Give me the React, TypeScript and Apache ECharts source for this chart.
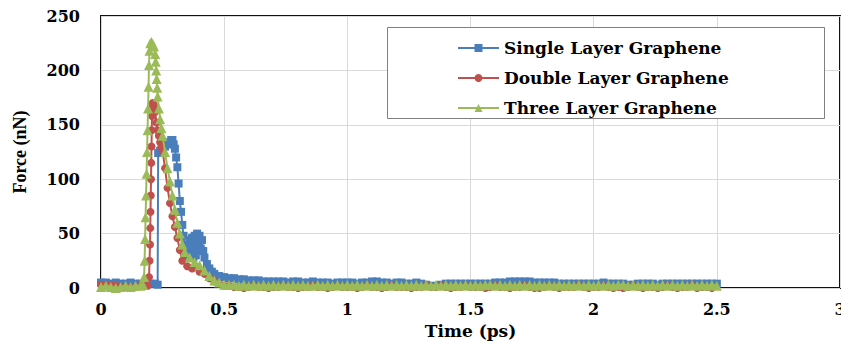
import React, { useEffect, useRef } from "react";
import * as echarts from "echarts";

// ---- Data ----
const xTicks = [0, 0.5, 1, 1.5, 2, 2.5, 3];
const yTicks = [0, 50, 100, 150, 200, 250];

const singleHeadTime = [0, 0.02, 0.04, 0.06, 0.08, 0.1, 0.12, 0.14, 0.16, 0.18, 0.2, 0.22, 0.23, 0.232, 0.24, 0.25, 0.26, 0.27, 0.28, 0.285, 0.29, 0.295, 0.3, 0.305, 0.31, 0.315, 0.32, 0.325, 0.33, 0.335, 0.34, 0.345, 0.35, 0.355, 0.36, 0.365, 0.37, 0.375, 0.38, 0.385, 0.39, 0.395, 0.4, 0.405, 0.41, 0.415, 0.42, 0.43, 0.44, 0.45, 0.46, 0.48, 0.5];
const singleHeadForce = [5, 5, 4, 5, 4, 4, 5, 4, 4, 4, 4, 4, 3, 124, 126, 128, 130, 132, 134, 136, 136, 132, 128, 120, 111, 96, 80, 70, 58, 48, 40, 34, 30, 38, 44, 30, 46, 28, 48, 30, 50, 34, 48, 36, 44, 34, 28, 22, 18, 15, 13, 11, 10];

const doubleHeadTime = [0, 0.02, 0.04, 0.06, 0.08, 0.1, 0.12, 0.14, 0.16, 0.18, 0.19, 0.195, 0.197, 0.199, 0.2, 0.201, 0.202, 0.203, 0.204, 0.205, 0.206, 0.207, 0.208, 0.21, 0.215, 0.22, 0.225, 0.23, 0.235, 0.24, 0.245, 0.25, 0.26, 0.27, 0.28, 0.29, 0.3, 0.31, 0.32, 0.33, 0.35, 0.37, 0.4, 0.42, 0.44, 0.46, 0.48, 0.5];
const doubleHeadForce = [3, 3, 2, 2, 1, 1, 0, 1, 2, 2, 2, 10, 25, 40, 55, 70, 85, 100, 115, 130, 145, 158, 166, 170, 168, 162, 152, 145, 140, 134, 130, 126, 110, 92, 78, 66, 56, 46, 35, 25, 20, 18, 15, 13, 9, 6, 4, 2];

const threeHeadTime = [0, 0.02, 0.04, 0.06, 0.08, 0.1, 0.12, 0.14, 0.16, 0.17, 0.175, 0.177, 0.179, 0.181, 0.183, 0.185, 0.187, 0.189, 0.191, 0.193, 0.195, 0.197, 0.2, 0.205, 0.21, 0.215, 0.22, 0.222, 0.224, 0.226, 0.228, 0.23, 0.235, 0.24, 0.245, 0.25, 0.26, 0.27, 0.28, 0.29, 0.3, 0.31, 0.32, 0.33, 0.34, 0.36, 0.38, 0.4, 0.42, 0.44, 0.46, 0.48, 0.5];
const threeHeadForce = [1, 2, 1, 0, 1, 2, 1, 2, 2, 3, 10, 25, 45, 65, 85, 105, 125, 145, 165, 185, 205, 218, 225, 226, 224, 222, 215, 208, 200, 192, 184, 176, 165, 155, 147, 140, 125, 110, 98, 85, 72, 60, 50, 40, 33, 28, 24, 21, 16, 11, 7, 5, 3];

const tailTime = [
  0.52, 0.54, 0.56, 0.58, 0.6, 0.62, 0.64, 0.66, 0.68, 0.7,
  0.72, 0.74, 0.76, 0.78, 0.8, 0.82, 0.84, 0.86, 0.88, 0.9, 0.92, 0.94, 0.96, 0.98, 1.0,
  1.02, 1.04, 1.06, 1.08, 1.1, 1.12, 1.14, 1.16, 1.18, 1.2, 1.22, 1.24, 1.26, 1.28, 1.3,
  1.32, 1.34, 1.36, 1.38, 1.4, 1.42, 1.44, 1.46, 1.48, 1.5,
  1.52, 1.54, 1.56, 1.58, 1.6, 1.62, 1.64, 1.66, 1.68, 1.7,
  1.72, 1.74, 1.76, 1.78, 1.8, 1.82, 1.84, 1.86, 1.88, 1.9,
  1.92, 1.94, 1.96, 1.98, 2.0, 2.02, 2.04, 2.06, 2.08, 2.1,
  2.12, 2.14, 2.16, 2.18, 2.2, 2.22, 2.24, 2.26, 2.28, 2.3,
  2.32, 2.34, 2.36, 2.38, 2.4, 2.42, 2.44, 2.46, 2.48, 2.5,
];
const singleTailForce = [
  9, 9, 8, 8, 7, 7, 7, 6, 6, 6,
  6, 6, 5, 6, 6, 5, 5, 6, 5, 5, 5, 4, 5, 5, 5,
  5, 4, 5, 5, 6, 6, 5, 5, 4, 5, 5, 4, 4, 5, 4,
  3, 2, 2, 3, 4, 4, 4, 4, 4, 4,
  4, 4, 4, 4, 5, 5, 5, 6, 6, 6,
  6, 6, 5, 5, 5, 5, 5, 4, 4, 4,
  4, 4, 4, 4, 4, 4, 5, 4, 4, 4,
  4, 3, 3, 4, 4, 4, 4, 3, 4, 4,
  4, 4, 4, 4, 4, 4, 4, 4, 4, 4,
];
const doubleTailForce = [
  2, 1, 1, 0, 1, 2, 1, 1, 0, 1,
  1, 2, 1, 1, 0, 1, 1, 2, 1, 1, 0, 1, 2, 1, 1,
  1, 0, 1, 2, 1, 1, 0, 1, 2, 1, 1, 1, 0, 1, 1,
  2, 1, 1, 2, 1, 0, 1, 1, 2, 1,
  1, 1, 0, 1, 2, 1, 1, 0, 1, 1,
  2, 1, 0, 0, 1, 2, 1, 0, 1, 1,
  1, 2, 1, 0, 1, 1, 2, 1, 0, 1,
  0, 1, 2, 1, 0, 1, 1, 0, 1, 2,
  1, 0, 1, 1, 2, 0, 1, 1, 0,
];
const threeTailForce = [
  3, 3, 2, 3, 2, 3, 2, 3, 2, 3,
  2, 3, 2, 3, 2, 3, 2, 2, 3, 2, 3, 2, 3, 2, 3,
  2, 3, 2, 3, 2, 3, 2, 3, 2, 3, 2, 3, 2, 3, 2,
  3, 2, 3, 2, 3, 2, 3, 2, 3, 2,
  3, 2, 3, 3, 2, 3, 2, 3, 2, 3,
  2, 3, 2, 3, 2, 3, 2, 3, 2, 3,
  2, 3, 2, 3, 2, 3, 2, 3, 2, 3,
  3, 2, 3, 2, 3, 2, 3, 2, 3, 2,
  3, 2, 3, 2, 3, 2, 3, 2, 3, 2,
];

const seriesNames = ["Single Layer Graphene", "Double Layer Graphene", "Three Layer Graphene"];
const seriesColors = ["#4A7EBB", "#C0504D", "#9BBB59"];

function zip(ht: number[], hf: number[], tf: number[]) {
  const out: number[][] = [];
  ht.forEach((t, i) => out.push([t, hf[i]]));
  tf.forEach((f, i) => out.push([tailTime[i], f]));
  return out;
}

const labelFont = {
  fontFamily: "DejaVu Serif",
  fontWeight: "bold" as const,
  fontSize: 16,
  color: "#000",
};

export default function App() {
  const ref = useRef<HTMLDivElement>(null);
  useEffect(() => {
    if (!ref.current) return;
    const chart = echarts.init(ref.current, undefined, { renderer: "svg" });
    const data = [
      zip(singleHeadTime, singleHeadForce, singleTailForce),
      zip(doubleHeadTime, doubleHeadForce, doubleTailForce),
      zip(threeHeadTime, threeHeadForce, threeTailForce),
    ];
    const symbols = ["rect", "circle", "triangle"];
    const sizes = [8, 8, 10];
    chart.setOption({
      animation: false,
      backgroundColor: "#fff",
      grid: {
        left: 101,
        top: 16,
        right: 1,
        bottom: 56,
        show: true,
        borderColor: "#111",
        borderWidth: 2,
        containLabel: false,
        outerBoundsMode: "none",
      },
      xAxis: {
        type: "value",
        min: 0,
        max: 3,
        interval: 0.5,
        name: "Time (ps)",
        nameLocation: "middle",
        nameGap: 34,
        nameTextStyle: { ...labelFont, fontSize: 17 },
        axisLine: { show: false },
        axisTick: { show: false },
        axisLabel: {
          ...labelFont,
          margin: 13,
          formatter: (v: number) => (xTicks.includes(v) ? String(v) : ""),
        },
        splitLine: { show: true, lineStyle: { color: "#D9D9D9", width: 1 } },
      },
      yAxis: {
        type: "value",
        min: 0,
        max: 250,
        interval: 50,
        name: "Force (nN)",
        nameLocation: "middle",
        nameRotate: 90,
        nameGap: 72,
        nameTextStyle: {
          fontFamily: "Liberation Serif",
          fontWeight: "bold",
          fontSize: 18,
          color: "#000",
        },
        axisLine: { show: false },
        axisTick: { show: false },
        axisLabel: {
          ...labelFont,
          margin: 21,
          formatter: (v: number) => (yTicks.includes(v) ? String(v) : ""),
        },
        splitLine: { show: true, lineStyle: { color: "#D9D9D9", width: 1 } },
      },
      legend: {
        orient: "vertical",
        left: 452,
        top: 33,
        itemWidth: 41,
        itemHeight: 10,
        itemGap: 10,
        z: 5,
        textStyle: { ...labelFont, fontSize: 17, lineHeight: 20, padding: [0, 0, 0, 0] },
        data: seriesNames,
      },
      graphic: [
        {
          type: "rect",
          z: 3,
          shape: { x: 387.5, y: 27.5, width: 437, height: 91 },
          style: { fill: "#fff", stroke: "#808080", lineWidth: 1 },
        },
      ],
      series: seriesNames.map((name, i) => ({
        name,
        type: "line",
        data: data[i],
        color: seriesColors[i],
        symbol: symbols[i],
        symbolSize: sizes[i],
        showAllSymbol: true,
        lineStyle: { width: 2, color: seriesColors[i] },
        itemStyle: { color: seriesColors[i] },
        z: 2 + i,
      })),
    });
    return () => chart.dispose();
  }, []);
  return (
    <div
      ref={ref}
      style={{ position: "absolute", left: 0, top: 0, width: 841, height: 344 }}
    />
  );
}
